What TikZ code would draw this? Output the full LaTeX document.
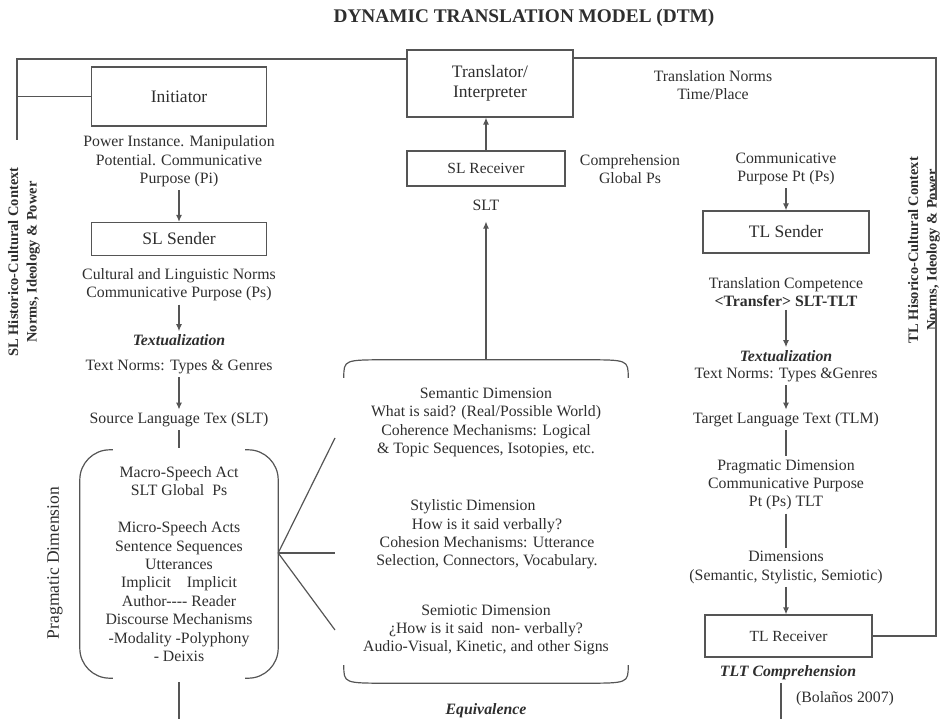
\documentclass[tikz,border=0pt]{standalone}
\usepackage{fontspec}
\setmainfont{Liberation Serif}
\usetikzlibrary{arrows.meta,positioning}

\definecolor{linegray}{HTML}{555555}
\definecolor{inkgray}{HTML}{2E2E2E}
\newcommand{\bodysize}{\fontsize{15.8pt}{18.4pt}\selectfont}
\newcommand{\boxsize}{\fontsize{17.5pt}{20pt}\selectfont}
\newcommand{\smallbox}{\fontsize{15.5pt}{18pt}\selectfont}

\tikzset{
  frame/.style={draw=linegray, line width=1.2pt},
  arr/.style={frame, -{Latex[length=7pt,width=6pt]}},
  box/.style={frame, text=inkgray, font=\boxsize, align=center, inner sep=2pt},
  txt/.style={text=inkgray, font=\bodysize, align=center, inner sep=3pt},
  accent/.style={txt, font=\bodysize\bfseries\itshape},
  ctx/.style={text=inkgray, font=\fontsize{14.5pt}{18.5pt}\selectfont\bfseries, align=center, rotate=90, inner sep=1pt},
}

\begin{document}
\begin{tikzpicture}[x=1pt,y=-1pt]
\useasboundingbox (0,0) rectangle (951,719);

\node[text=inkgray, font=\fontsize{19.3pt}{22pt}\selectfont\bfseries] (title) at (524,18) {DYNAMIC TRANSLATION MODEL (DTM)};

% source language side
\node[box, minimum width=175pt, minimum height=59pt] (init) at (179,96.5) {Initiator};
\node[txt] (pinote) at (179,161.5) {Power Instance. Manipulation\\ Potential. Communicative\\ Purpose (Pi)};
\node[box, minimum width=175pt, minimum height=33pt] (slsend) at (179,239) {SL Sender};
\node[txt] (slnorms) at (179,285) {Cultural and Linguistic Norms\\ Communicative Purpose (Ps)};
\node[accent] (sltextual) at (179,340) {Textualization};
\node[txt] (sltypes) at (179,367) {Text Norms: Types \& Genres};
\node[txt] (slt) at (179,420) {Source Language Tex (SLT)};
\node[txt, minimum width=198pt, minimum height=228pt] (pragbox) at (179,564)
  {Macro-Speech Act\\ SLT Global~~Ps\\[18.4pt]
   Micro-Speech Acts\\ Sentence Sequences\\ Utterances\\
   Implicit\hspace{1em}Implicit\\ Author-{}-{}-{}- Reader\\
   Discourse Mechanisms\\ -Modality -Polyphony\\ - Deixis};
\node[txt, rotate=90, font=\fontsize{17.5pt}{20pt}\selectfont] (pragdim) at (55,563) {Pragmatic Dimension};
\node[ctx] (slctx) at (24,262) {SL Historico-Cultural Context\\ Norms, Ideology \& Power};

% translator and dimensions
\node[box, minimum width=166pt, minimum height=67pt] (trans) at (490,83.5) {Translator/\\ Interpreter};
\node[box, font=\smallbox, minimum width=158pt, minimum height=35pt] (slrec) at (486,168.5) {SL Receiver};
\node[txt] (compr) at (630,169) {Comprehension\\ Global Ps};
\node[txt] (sltlabel) at (486,205) {SLT};
\node[minimum width=284pt, minimum height=323pt, inner sep=0pt] (dimbox) at (486,521.5) {};
\node[txt] (semdim) at (486,422.5) {Semantic Dimension\\ What is said? (Real/Possible World)\\ Coherence Mechanisms: Logical\\ \& Topic Sequences, Isotopies, etc.};
\node[txt] (stydim) at (487,534.5) {Stylistic Dimension\hspace*{28pt}\\ How is it said verbally?\hspace*{6pt}\\ Cohesion Mechanisms: Utterance\\ Selection, Connectors, Vocabulary.};
\node[txt] (semio) at (486,630) {Semiotic Dimension\\ ¿How is it said~~non- verbally?\\ Audio-Visual, Kinetic, and other Signs};
\node[accent] (equiv) at (486,711) {Equivalence};

% target language side
\node[txt] (tnorms) at (713,85) {Translation Norms\\ Time/Place};
\node[txt] (tcomm) at (786,169) {Communicative\\ Purpose Pt (Ps)};
\node[box, minimum width=166pt, minimum height=42pt] (tlsend) at (786,232) {TL Sender};
\node[txt] (tcomp) at (786,292) {Translation Competence\\ \textbf{<Transfer> SLT-TLT}};
\node[accent] (tltextual) at (786,356) {Textualization};
\node[txt] (tltypes) at (786,375) {Text Norms: Types \&Genres};
\node[txt] (tlt) at (786,420) {Target Language Text (TLM)};
\node[txt] (tlprag) at (786,485) {Pragmatic Dimension\\ Communicative Purpose\\ Pt (Ps) TLT};
\node[txt] (tldims) at (786,567.5) {Dimensions\\ (Semantic, Stylistic, Semiotic)};
\node[box, font=\smallbox, minimum width=167pt, minimum height=42pt] (tlrec) at (788.5,636) {TL Receiver};
\node[accent] (tlcomp) at (788,673) {TLT Comprehension};
\node[txt] (bolanos) at (845,699) {(Bolaños 2007)};
\node[ctx] (tlctx) at (924,250) {TL Hisorico-Cultural Context\\ Norms, Ideology \& Power};

% frame ends
\coordinate (ltop) at (17,59);
\coordinate (lend) at (17,140);
\coordinate (rtop) at (936,58);
\coordinate (rgapa) at (936,200);
\coordinate (rgapb) at (936,310);
\coordinate (hub) at ([yshift=11pt]pragbox.east);
\coordinate (spa) at (335,438);
\coordinate (spb) at (335,553);
\coordinate (spc) at (335,630);
\coordinate (lbot) at (179,719);
\coordinate (rbot) at (781,719);

\draw[frame] (lend) -- (ltop) -- (ltop -| trans.west);
\draw[frame] (ltop |- init.west) -- (init.west);
\draw[frame] (trans.east |- rtop) -- (rtop) -- (rgapa);
\draw[frame] (rgapb) -- (rtop |- tlrec.east) -- (tlrec.east);

\draw[arr] (pinote) -- (slsend);
\draw[arr] (slnorms) -- (sltextual);
\draw[arr] (sltypes) -- (slt);
\draw[frame, shorten >=2pt] (slt) -- (pragbox.north);

\draw[frame, rounded corners=30pt] ([xshift=33pt]pragbox.north west) -- (pragbox.north west)
  -- (pragbox.south west) -- ([xshift=33pt]pragbox.south west);
\draw[frame, rounded corners=30pt] ([xshift=-33pt]pragbox.north east) -- (pragbox.north east)
  -- (pragbox.south east) -- ([xshift=-33pt]pragbox.south east);
\draw[frame, shorten <=4pt] (pragbox.south) -- (lbot);

\draw[frame] (spa) -- (hub) -- (spc);
\draw[frame] (hub) -- (spb);

\draw[frame] ([yshift=-18pt]dimbox.north west) .. controls (dimbox.north west) .. ([xshift=44pt]dimbox.north west)
  -- ([xshift=-44pt]dimbox.north east) .. controls (dimbox.north east) .. ([yshift=-18pt]dimbox.north east);
\draw[frame] ([yshift=18pt]dimbox.south west) .. controls (dimbox.south west) .. ([xshift=44pt]dimbox.south west)
  -- ([xshift=-44pt]dimbox.south east) .. controls (dimbox.south east) .. ([yshift=18pt]dimbox.south east);

\draw[arr, shorten >=8pt] (dimbox) -- (sltlabel);
\draw[arr] (slrec.north) -- (slrec.north |- trans.south);

\draw[arr] (tcomm) -- (tlsend);
\draw[arr] (tcomp) -- (tltextual);
\draw[arr] (tltypes) -- (tlt);
\draw[frame] (tlt) -- (tlprag);
\draw[frame] (tlprag) -- (tldims);
\draw[arr] (tldims) -- (tldims |- tlrec.north);
\draw[frame] (tlcomp.south -| rbot) -- (rbot);
\end{tikzpicture}
\end{document}
